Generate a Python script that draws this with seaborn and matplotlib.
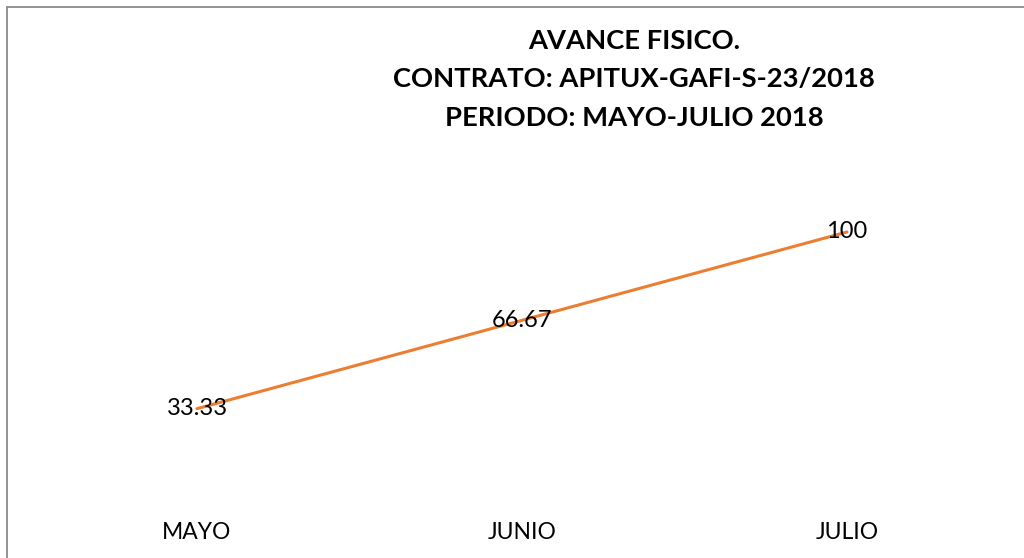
import matplotlib.pyplot as plt
import seaborn as sns
import pandas as pd
from matplotlib.lines import Line2D

meses = ["MAYO", "JUNIO", "JULIO"]
avance = [33.33, 66.67, 100]
etiquetas = ["33.33", "66.67", "100"]
titulo = ["AVANCE FISICO.", "CONTRATO: APITUX-GAFI-S-23/2018", "PERIODO: MAYO-JULIO 2018"]

sns.set_style("white")
plt.rcParams['font.family'] = ['Lato', 'DejaVu Sans']

df = pd.DataFrame({'mes': meses, 'avance': avance})

fig = plt.figure(figsize=(10.24, 5.58), dpi=100)
ax = fig.add_axes([34.5 / 1024, 1 - 497 / 558, 975 / 1024, 318 / 558])

sns.lineplot(x='mes', y='avance', data=df, ax=ax, color='#ED7D31', linewidth=2.2, sort=False)

for i, (v, t) in enumerate(zip(avance, etiquetas)):
    ax.text(i, v, t, ha='center', va='center', fontsize=17, color='black')

ax.set_xlim(-0.5, 2.5)
ax.set_ylim(0, 120)
ax.set_xlabel("")
ax.set_ylabel("")
ax.set_yticks([])
ax.tick_params(axis='x', length=0, pad=18, labelsize=16.5, labelcolor='black')
for s in ax.spines.values():
    s.set_visible(False)

# titulo en tres lineas
for k, linea in enumerate(titulo):
    fig.text(634 / 1024, 1 - (41 + 38.5 * k) / 558, linea, ha='center', va='center',
             fontsize=19.7, fontweight='bold', color='black')

# borde del grafico (arriba e izquierda)
fig.add_artist(Line2D([7 / 1024, 1], [1 - 7 / 558, 1 - 7 / 558], color='#8a8a8a', lw=1.3))
fig.add_artist(Line2D([7 / 1024, 7 / 1024], [0, 1 - 7 / 558], color='#8a8a8a', lw=1.3))

fig.savefig("out.png", dpi=100)
